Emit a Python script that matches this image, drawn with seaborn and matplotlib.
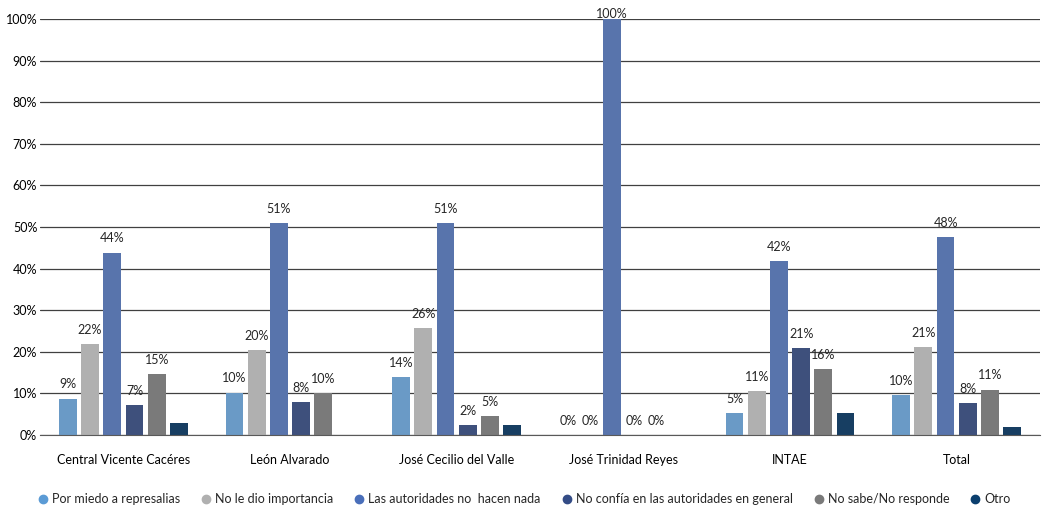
import pandas as pd
import numpy as np
import seaborn as sns
import matplotlib.pyplot as plt
from matplotlib.lines import Line2D
from matplotlib.ticker import FuncFormatter

# Data (percentages)
centros = ['Central Vicente Cacéres', 'León Alvarado', 'José Cecilio del Valle',
           'José Trinidad Reyes', 'INTAE', 'Total']
motivos = ['Por miedo a represalias', 'No le dio importancia',
           'Las autoridades no  hacen nada', 'No confía en las autoridades en general',
           'No sabe/No responde', 'Otro']

por_miedo = [8.7, 10.2, 13.9, 0, 5.3, 9.6]
no_importancia = [21.9, 20.4, 25.7, 0, 10.6, 21.1]
autoridades_nada = [43.8, 51.0, 51.0, 100, 41.8, 47.6]
no_confia = [7.2, 7.9, 2.4, 0, 20.9, 7.7]
no_sabe = [14.7, 10.1, 4.6, 0, 15.9, 10.9]
otro = [2.9, 0, 2.4, 0, 5.2, 1.9]

colores = ['#5B9BD5', '#B0B0B0', '#4A6FBA', '#344C86', '#7A7A7A', '#0B3F6E']

series = [por_miedo, no_importancia, autoridades_nada, no_confia, no_sabe, otro]
df = pd.DataFrame({
    'centro': centros * len(motivos),
    'motivo': np.repeat(motivos, len(centros)),
    'valor': np.concatenate(series),
})

sns.set_style('white')
plt.rcParams['font.family'] = ['Lato', 'DejaVu Sans']

fig = plt.figure(figsize=(10.45, 5.07), dpi=100)
ax = fig.add_axes([40 / 1045, 1 - 435 / 507, 1000 / 1045, 416 / 507])

sns.barplot(data=df, x='centro', y='valor', hue='motivo', order=centros,
            hue_order=motivos, palette=colores, width=0.8, gap=0.2,
            linewidth=0, legend=False, ax=ax, errorbar=None)

ax.set_ylim(0, 100)
ax.set_xlim(-0.5, 5.5)
ax.set_yticks(range(0, 101, 10))
ax.yaxis.set_major_formatter(FuncFormatter(lambda v, p: f'{v:.0f}%'))
ax.grid(axis='y', color='#404040', linewidth=0.9)
ax.set_axisbelow(True)
for s in ['top', 'right', 'left']:
    ax.spines[s].set_visible(False)
ax.spines['bottom'].set_color('#595959')
ax.tick_params(axis='both', length=0, labelsize=9, colors='black')
ax.tick_params(axis='x', pad=14)
ax.tick_params(axis='y', pad=2)
ax.set_xlabel('')
ax.set_ylabel('')

# value labels (no labels for "Otro")
for cont, vals in zip(ax.containers[:5], series[:5]):
    anns = ax.bar_label(cont, labels=[f'{v:.0f}%' for v in vals], padding=6, fontsize=9)
    for a, v in zip(anns, vals):
        if v >= 100:
            a.xyann = (0, -1)  # the 100% label sits right on the bar top

handles = [Line2D([], [], marker='o', linestyle='', markersize=6,
                  markerfacecolor=c, markeredgecolor=c) for c in colores]
fig.legend(handles, motivos, loc='lower center', bbox_to_anchor=(0.502, -0.018),
           ncol=6, frameon=False, fontsize=9, handlelength=0.7,
           handletextpad=0.35, columnspacing=1.75)

plt.savefig('out.png', dpi=100)
plt.close()
